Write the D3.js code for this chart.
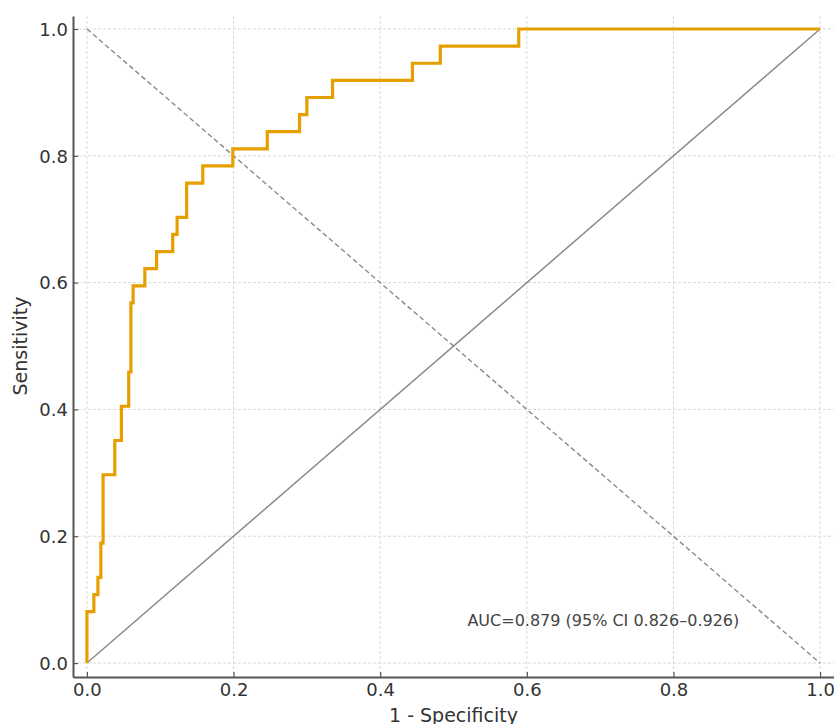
<!DOCTYPE html>
<html>
<head>
<meta charset="utf-8">
<script src="https://cdn.jsdelivr.net/npm/d3@7"></script>
<style>
  body { margin: 0; background: #fff; }
  text { font-family: "DejaVu Sans", sans-serif; }
</style>
</head>
<body>
<svg id="chart" width="834" height="724"></svg>
<script>
// ROC curve step points (1 - specificity, sensitivity)
var fpr = [0, 0, 0.0095, 0.0095, 0.015, 0.015, 0.019, 0.019, 0.022, 0.022,
  0.038, 0.038, 0.047, 0.047, 0.057, 0.057, 0.060, 0.060, 0.063, 0.063,
  0.079, 0.079, 0.095, 0.095, 0.117, 0.117, 0.123, 0.123, 0.136, 0.136,
  0.158, 0.158, 0.199, 0.199, 0.246, 0.246, 0.290, 0.290, 0.300, 0.300,
  0.335, 0.335, 0.444, 0.444, 0.482, 0.482, 0.589, 0.589, 1.0];
var tpr = [0, 0.081, 0.081, 0.108, 0.108, 0.135, 0.135, 0.189, 0.189, 0.297,
  0.297, 0.351, 0.351, 0.405, 0.405, 0.459, 0.459, 0.568, 0.568, 0.595,
  0.595, 0.622, 0.622, 0.649, 0.649, 0.676, 0.676, 0.703, 0.703, 0.757,
  0.757, 0.784, 0.784, 0.811, 0.811, 0.838, 0.838, 0.865, 0.865, 0.892,
  0.892, 0.919, 0.919, 0.946, 0.946, 0.973, 0.973, 1.0, 1.0];
var ticks = [0, 0.2, 0.4, 0.6, 0.8, 1.0];
var aucLabel = "AUC=0.879 (95% CI 0.826\u20130.926)";

var svg = d3.select("#chart");
var plotL = 73, plotR = 834, plotT = 16, plotB = 677;

var x = d3.scaleLinear().domain([-0.019, 1.019]).range([plotL, plotR]);
var y = d3.scaleLinear().domain([-0.022, 1.0205]).range([plotB, plotT]);

// grid
var grid = svg.append("g");
grid.selectAll(".gx").data(ticks).enter().append("line")
    .attr("x1", d => x(d)).attr("x2", d => x(d))
    .attr("y1", plotT).attr("y2", plotB)
    .attr("stroke", "#cfcfcf").attr("stroke-width", 0.8)
    .attr("stroke-dasharray", "3,2");
grid.selectAll(".gy").data(ticks).enter().append("line")
    .attr("y1", d => y(d)).attr("y2", d => y(d))
    .attr("x1", plotL).attr("x2", plotR)
    .attr("stroke", "#cfcfcf").attr("stroke-width", 0.8)
    .attr("stroke-dasharray", "3,2");

// reference lines
svg.append("line")
    .attr("x1", x(0)).attr("y1", y(0)).attr("x2", x(1)).attr("y2", y(1))
    .attr("stroke", "#8a8a8a").attr("stroke-width", 1.5);
svg.append("line")
    .attr("x1", x(0)).attr("y1", y(1)).attr("x2", x(1)).attr("y2", y(0))
    .attr("stroke", "#8a8a8a").attr("stroke-width", 1.4)
    .attr("stroke-dasharray", "5,3");

// roc curve
var pts = fpr.map((d, i) => [d, tpr[i]]);
var line = d3.line().x(d => x(d[0])).y(d => y(d[1]));
svg.append("path")
    .datum(pts)
    .attr("d", line)
    .attr("fill", "none")
    .attr("stroke", "#E69F00")
    .attr("stroke-width", 3.2)
    .attr("stroke-linejoin", "miter");

// axes (ticks inward)
var xAxis = svg.append("g")
    .attr("transform", "translate(0," + plotB + ")")
    .call(d3.axisBottom(x).tickValues(ticks).tickFormat(d3.format(".1f"))
      .tickSizeInner(-5).tickSizeOuter(0).tickPadding(6));
var yAxis = svg.append("g")
    .attr("transform", "translate(" + plotL + ",0)")
    .call(d3.axisLeft(y).tickValues(ticks).tickFormat(d3.format(".1f"))
      .tickSizeInner(-5).tickSizeOuter(0).tickPadding(5));

[xAxis, yAxis].forEach(function (g) {
  g.select(".domain").attr("stroke", "#555").attr("stroke-width", 2);
  g.selectAll(".tick line").attr("stroke", "#555").attr("stroke-width", 1.2);
  g.selectAll(".tick text").attr("fill", "#333").style("font-size", "18px")
    .style("font-family", "DejaVu Sans, sans-serif");
});
yAxis.selectAll(".tick text").attr("x", -5).attr("dy", "0.35em");

// labels
svg.append("text")
    .attr("x", (x(0) + x(1)) / 2).attr("y", 722)
    .attr("text-anchor", "middle")
    .attr("fill", "#333").style("font-size", "19px")
    .text("1 - Specificity");
svg.append("text")
    .attr("transform", "translate(27," + y(0.5) + ") rotate(-90)")
    .attr("text-anchor", "middle")
    .attr("fill", "#333").style("font-size", "19px")
    .text("Sensitivity");

svg.append("text")
    .attr("x", x(0.519)).attr("y", y(0.067)).attr("dy", "0.35em")
    .attr("fill", "#444").style("font-size", "16px")
    .text(aucLabel);
</script>
</body>
</html>
